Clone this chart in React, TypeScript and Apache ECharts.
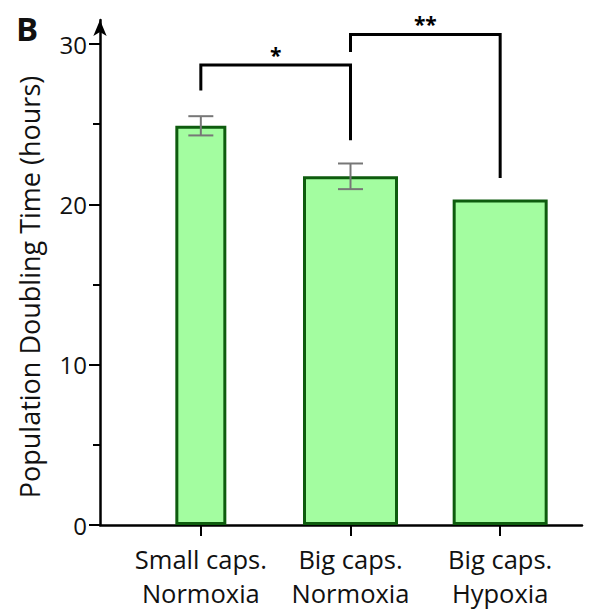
import React, { useEffect, useRef } from "react";
import * as echarts from "echarts";

const categories = ["Small caps.\nNormoxia", "Big caps.\nNormoxia", "Big caps.\nHypoxia"];
const barValues = [24.9, 21.75, 20.3];
const barErrors = [0.6, 0.8, null];
const yTickValues = [0, 10, 20, 30];
const yMinorTickValues = [5, 15, 25];
const bracketFrom = [0, 1];
const bracketTo = [1, 2];
const bracketTop = [28.7, 30.6];
const bracketLeftEnd = [27.1, 29.5];
const bracketRightEnd = [24.0, 21.65];
const bracketLabels = ["*", "**"];
const yAxisTitle = "Population Doubling Time (hours)";
const panelLetter = "B";

const FONT = "'Open Sans', 'DejaVu Sans', sans-serif";
const Y_MAX = 31.5;

export default function App() {
  const ref = useRef<HTMLDivElement>(null);
  useEffect(() => {
    if (!ref.current) return;
    const chart = echarts.init(ref.current, null, { renderer: "svg" });

    const narrowData = barValues.map((v, i) => (i === 0 ? v : "-"));
    const wideData = barValues.map((v, i) => (i === 0 ? "-" : v));
    const errData = barValues
      .map((v, i) => [i, v, barErrors[i]])
      .filter((d) => d[2] != null);
    const bracketData = bracketFrom.map((f, i) => [f, bracketTo[i], bracketTop[i], bracketLeftEnd[i], bracketRightEnd[i]]);

    const barStyle = { color: "#a3fda0", borderColor: "#0e5c0e", borderWidth: 3 };

    chart.setOption({
      animation: false,
      backgroundColor: "#ffffff",
      grid: [
        { left: 126, right: 31, top: 20, bottom: 88 },
        { left: 100, right: 24, top: 20, bottom: 88 },
      ],
      xAxis: [
        {
          type: "category",
          gridIndex: 0,
          data: categories,
          axisLine: { show: false },
          axisTick: { show: true, alignWithLabel: true, length: 11, lineStyle: { color: "#000", width: 2 } },
          axisLabel: { interval: 0, hideOverlap: false, fontSize: 25.5, lineHeight: 34, color: "#111", margin: 17, fontFamily: FONT },
          splitLine: { show: false },
        },
        {
          type: "value",
          gridIndex: 1,
          min: 0,
          max: 1,
          axisLine: { show: true, onZero: false, lineStyle: { color: "#000", width: 2.5 } },
          axisTick: { show: false },
          axisLabel: { show: false },
          splitLine: { show: false },
        },
        {
          type: "category",
          gridIndex: 0,
          data: categories,
          show: false,
        },
      ],
      yAxis: [
        {
          type: "value",
          gridIndex: 0,
          min: 0,
          max: Y_MAX,
          offset: 26,
          axisLine: { show: false },
          axisTick: { show: true, length: 7, customValues: yMinorTickValues, lineStyle: { color: "#000", width: 2 } },
          axisLabel: { show: false },
          splitLine: { show: false },
        },
        {
          type: "value",
          gridIndex: 1,
          min: 0,
          max: Y_MAX,
          axisLine: {
            show: true,
            onZero: false,
            symbol: ["none", "arrow"],
            symbolSize: [10, 16],
            lineStyle: { color: "#000", width: 2.5 },
          },
          axisTick: { show: true, length: 11, customValues: yTickValues, lineStyle: { color: "#000", width: 2 } },
          axisLabel: { show: true, customValues: yTickValues, fontSize: 24, color: "#111", margin: 13, fontFamily: FONT },
          splitLine: { show: false },
        },
      ],
      series: [
        {
          type: "bar",
          xAxisIndex: 0,
          yAxisIndex: 0,
          data: narrowData,
          barWidth: 51,
          itemStyle: barStyle,
          z: 2,
        },
        {
          type: "bar",
          xAxisIndex: 2,
          yAxisIndex: 0,
          data: wideData,
          barWidth: 95,
          itemStyle: barStyle,
          z: 2,
        },
        {
          type: "custom",
          xAxisIndex: 0,
          yAxisIndex: 0,
          encode: { x: 0, y: 1 },
          data: errData,
          z: 5,
          renderItem: (params: any, api: any) => {
            const x = api.value(0);
            const m = api.value(1);
            const e = api.value(2);
            const top = api.coord([x, m + e]);
            const bot = api.coord([x, m - e]);
            const half = 12.5;
            const st = { stroke: "#777777", lineWidth: 2 };
            return {
              type: "group",
              children: [
                { type: "line", shape: { x1: top[0], y1: top[1], x2: bot[0], y2: bot[1] }, style: st },
                { type: "line", shape: { x1: top[0] - half, y1: top[1], x2: top[0] + half, y2: top[1] }, style: st },
                { type: "line", shape: { x1: bot[0] - half, y1: bot[1], x2: bot[0] + half, y2: bot[1] }, style: st },
              ],
            };
          },
        },
        {
          type: "custom",
          xAxisIndex: 0,
          yAxisIndex: 0,
          encode: { x: 0, y: 2 },
          data: bracketData,
          z: 5,
          clip: false,
          renderItem: (params: any, api: any) => {
            const a = api.value(0);
            const b = api.value(1);
            const top = api.value(2);
            const p1 = api.coord([a, api.value(3)]);
            const p2 = api.coord([a, top]);
            const p3 = api.coord([b, top]);
            const p4 = api.coord([b, api.value(4)]);
            return {
              type: "group",
              children: [
                {
                  type: "polyline",
                  shape: { points: [p1, p2, p3, p4] },
                  style: { stroke: "#000", lineWidth: 3, fill: "none", lineJoin: "miter" },
                },
                {
                  type: "text",
                  x: (p2[0] + p3[0]) / 2,
                  y: p2[1] - 10,
                  style: {
                    text: bracketLabels[params.dataIndex],
                    fontSize: 21,
                    fontWeight: "bold",
                    fontFamily: FONT,
                    fill: "#000",
                    align: "center",
                    verticalAlign: "middle",
                  },
                },
              ],
            };
          },
        },
      ],
      graphic: [
        {
          type: "text",
          x: 29,
          y: 287,
          rotation: Math.PI / 2,
          style: {
            text: yAxisTitle,
            fontSize: 27,
            fontFamily: FONT,
            fill: "#111",
            align: "center",
            verticalAlign: "middle",
          },
        },
        {
          type: "text",
          x: 16,
          y: 28,
          style: {
            text: panelLetter,
            fontSize: 33,
            fontWeight: "bold",
            fontFamily: FONT,
            fill: "#111",
            align: "left",
            verticalAlign: "middle",
          },
        },
      ],
    });
    return () => chart.dispose();
  }, []);
  return <div ref={ref} style={{ position: "fixed", left: 0, top: 0, width: 606, height: 613 }} />;
}
